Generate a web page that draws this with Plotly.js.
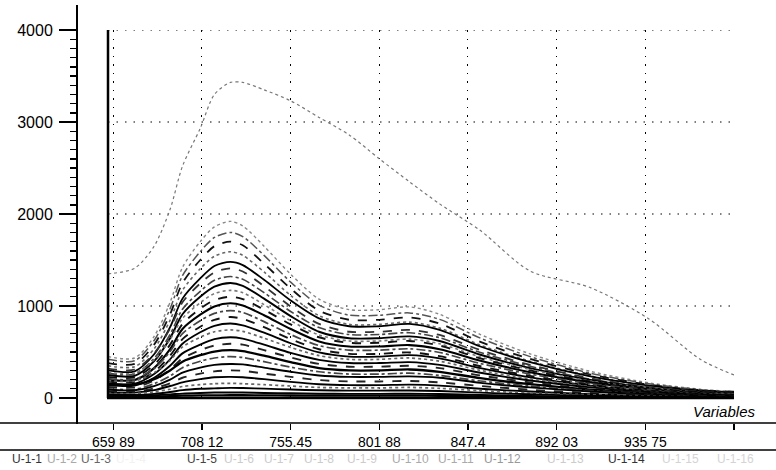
<!DOCTYPE html>
<html><head><meta charset="utf-8">
<script src="https://cdn.plot.ly/plotly-3.0.1.min.js"></script>
<style>html,body{margin:0;padding:0;background:#fff}#chart{width:776px;height:470px}</style>
</head><body><div id="chart"></div>
<script>
// ---- data (variable index along the x axis) ----
const variableIndex = [1,16,27,36,43,53,61,70,77,89,104,120,137,154,171,188,211,239,273,306,335,354];
const xTickVals = [4,54,104,154,204,254,304,354];
const xTickText = ['659 89','708 12','755.45','801 88','847.4','892 03','935 75',''];
const yTickVals = [0,1000,2000,3000,4000];
const yMinorStep = 100;

const sTop = [1350,1410,1650,2050,2520,2930,3300,3430,3430,3350,3230,3050,2860,2600,2350,2110,1820,1380,1200,860,420,250];
const s01 = [450,435,670,1040,1420,1700,1860,1920,1870,1650,1345,1075,960,960,990,910,690,480,290,165,95,70];
const s02 = [420,405,625,970,1330,1590,1745,1800,1755,1550,1260,1010,900,900,925,855,650,450,270,155,90,60];
const s03 = [380,370,580,910,1250,1500,1650,1700,1660,1460,1190,950,850,850,875,810,610,425,255,145,85,70];
const s04 = [350,340,535,845,1170,1405,1540,1590,1550,1370,1115,895,800,800,825,760,575,400,240,135,80,60];
const s05 = [300,290,475,770,1080,1300,1435,1480,1445,1285,1060,865,780,780,805,740,560,390,235,135,80,60];
const s06 = [320,310,485,755,1040,1245,1365,1410,1375,1215,995,805,720,720,740,685,520,360,215,120,70,50];
const s07 = [270,260,430,690,965,1160,1280,1320,1290,1145,940,765,690,690,710,655,495,345,205,115,70,55];
const s08 = [250,240,400,650,910,1100,1210,1250,1220,1080,890,720,650,650,670,620,470,325,195,110,65,50];
const s09 = [280,270,415,635,865,1035,1135,1170,1145,1015,840,685,620,620,640,590,445,310,185,105,60,45];
const s10 = [230,225,360,580,805,970,1065,1100,1075,960,800,660,600,600,620,570,430,300,180,100,60,50];
const s11 = [200,195,325,530,750,905,995,1030,1005,900,750,615,560,560,575,530,405,280,170,95,55,40];
const s12 = [210,205,320,505,700,840,920,950,930,830,690,570,520,520,535,495,375,260,155,90,50,45];
const s13 = [180,175,285,460,640,775,850,880,860,770,640,530,480,480,495,455,345,240,145,80,50,40];
const s14 = [160,155,260,420,590,715,785,810,790,710,595,495,450,450,465,430,325,225,135,75,45,35];
const s15 = [190,185,275,410,555,660,720,740,725,650,550,460,420,420,435,400,300,210,125,70,45,40];
const s16 = [140,135,220,350,485,580,640,660,645,580,490,415,380,380,390,360,275,190,115,65,40,30];
const s17 = [120,115,190,310,430,520,570,590,580,520,440,370,340,340,350,325,245,170,100,60,35,30];
const s18 = [150,145,205,300,395,465,505,520,510,460,390,325,300,300,310,285,215,150,90,50,30,25];
const s19 = [100,95,155,240,330,400,435,450,440,395,335,285,260,260,270,245,185,130,80,45,25,20];
const s20 = [90,85,130,200,275,330,360,370,365,330,285,245,230,230,235,220,165,115,70,40,25,20];
const s21 = [70,68,105,160,220,265,290,300,295,265,230,195,180,180,185,170,130,90,55,30,20,15];
const s22 = [60,58,85,130,170,205,225,230,225,205,175,150,140,140,145,135,100,70,40,25,15,12];
const s23 = [50,48,67,95,125,145,155,160,155,145,130,115,110,110,115,105,80,55,35,20,12,10];
const s24 = [35,34,45,65,85,100,105,110,108,102,92,84,80,80,82,76,58,40,24,14,8,7];
const s25 = [25,24,30,39,48,55,59,60,59,55,51,47,45,45,46,43,32,23,14,8,5,5];
const s26 = [15,15,17,21,25,28,29,30,30,29,27,26,25,25,26,24,18,13,8,5,4,4];

const seriesList = [sTop,s01,s02,s03,s04,s05,s06,s07,s08,s09,s10,s11,s12,s13,s14,s15,s16,s17,s18,s19,s20,s21,s22,s23,s24,s25,s26];

const legendNames = ['U-1-1','U-1-2','U-1-3','U-1-4','U-1-5','U-1-6','U-1-7','U-1-8','U-1-9','U-1-10','U-1-11','U-1-12','U-1-13','U-1-14','U-1-15','U-1-16'];

// ---- styles ----
const lineStyles = [
  ['#777','dot',1.2],
  ['#888','dot',1.4],['#555','dashdot',1.5],['#111','dash',1.8],['#666','dot',1.6],['#000','solid',1.8],
  ['#333','dash',1.8],['#444','dashdot',1.6],['#000','solid',1.9],['#777','dot',1.6],['#111','dash',1.9],
  ['#000','solid',2.1],['#444','dashdot',1.7],['#111','dash',1.9],['#000','solid',1.8],['#666','dot',1.7],
  ['#000','solid',1.9],['#222','dash',1.9],['#000','solid',2.3],['#444','dashdot',1.7],['#000','solid',1.9],
  ['#222','dash',1.9],['#000','solid',1.9],['#666','dot',1.7],['#000','solid',1.9],['#000','solid',1.9],['#000','solid',2.3]
];
const legendX = [10,45,79,114,185,222,262,302,345,390,436,482,545,606,660,715];
const legendColors = ['#333','#aaa','#666','#f2f2f2','#444','#ccc','#ccc','#ccc','#ccc','#aaa','#aaa','#999','#ccc','#333','#d4d4d4','#d4d4d4'];

const L = 77, R = 42, T = 30, B = 47;
const plotW = 776 - L - R, plotH = 470 - T - B;
const px = p => (p - L) / plotW;      // page x -> paper x
const py = p => (470 - B - p) / plotH; // page y -> paper y

const traces = seriesList.map((s, i) => ({
  x: variableIndex, y: s, type: 'scatter', mode: 'lines', hoverinfo: 'skip',
  line: {color: lineStyles[i][0], dash: lineStyles[i][1], width: lineStyles[i][2], shape: 'spline', smoothing: 0.8}
}));

const hline = (y, x0, x1, w) => ({type:'line', xref:'paper', yref:'paper', x0:px(x0), x1:px(x1), y0:py(y), y1:py(y), line:{color:'#000', width:w}, layer:'above'});
const vline = (x, y0, y1, w) => ({type:'line', xref:'paper', yref:'paper', x0:px(x), x1:px(x), y0:py(y0), y1:py(y1), line:{color:'#000', width:w}, layer:'above'});

const yRange = [yTickVals[0], yTickVals[yTickVals.length-1]];
const yDomain = [py(398), 1];

// y ticks every 100 (short), labels only on the thousands
const yAllTicks = [], yAllText = [];
for (let v = yRange[0]; v <= yRange[1]; v += yMinorStep) {
  yAllTicks.push(v);
  yAllText.push(yTickVals.indexOf(v) >= 0 ? String(v) : '');
}
// long marks on the thousands, placed through the y axis domain
const majorTicks = yTickVals.map(v => {
  const f = yDomain[0] + (v - yRange[0]) / (yRange[1] - yRange[0]) * (yDomain[1] - yDomain[0]);
  return {type:'line', xref:'paper', yref:'paper', x0:px(59), x1:px(78), y0:f, y1:f, line:{color:'#000', width:2}, layer:'above'};
});

const annotations = legendNames.map((n, i) => ({
  text: n, xref:'paper', yref:'paper', x: px(legendX[i]), y: py(459), xanchor:'left', yanchor:'middle',
  showarrow:false, font:{size:12, color: legendColors[i]}
}));
annotations.push({text:'<i>Variables</i>', xref:'paper', yref:'paper', x:px(757), y:py(411), xanchor:'right', yanchor:'middle', showarrow:false, font:{size:15, color:'#000'}});

const layout = {
  width: 776, height: 470,
  margin: {l:L, r:R, t:T, b:B, pad:0},
  paper_bgcolor:'#fff', plot_bgcolor:'#fff', showlegend:false,
  font:{family:'Liberation Sans, Arial, sans-serif', color:'#000'},
  xaxis:{
    domain:[px(108), 1], range:[1,354], anchor:'free', position:0,
    tickmode:'array', tickvals:xTickVals, ticktext:xTickText,
    ticks:'outside', ticklen:6, tickwidth:1.2, tickcolor:'#000',
    showline:false, zeroline:false, showgrid:true, gridcolor:'#000', griddash:'1.5px,7px', gridwidth:1,
    tickfont:{size:14}
  },
  yaxis:{
    domain:yDomain, range:yRange, anchor:'free', position:0,
    tickmode:'array', tickvals:yAllTicks, ticktext:yAllText,
    ticks:'outside', ticklen:7, tickwidth:1.4, tickcolor:'#000',
    showline:false, zeroline:false, showgrid:false,
    tickfont:{size:16}, ticklabelstandoff:14
  },
  shapes:[
    vline(77, 424, 5, 2),
    vline(108, 398, 30, 2.5),
    hline(398, 107, 734, 2.5),
    hline(423, 0, 776, 1.5),
    hline(450, 0, 776, 1.5)
  ].concat(majorTicks).concat(yTickVals.slice(1).map(v => ({
    type:'line', xref:'x', yref:'y', x0:1, x1:354, y0:v, y1:v, layer:'below',
    line:{color:'#000', width:1, dash:'1.5px,7px'}
  }))),
  annotations: annotations
};

Plotly.newPlot('chart', traces, layout, {staticPlot:true, displayModeBar:false});
</script>
</body></html>
